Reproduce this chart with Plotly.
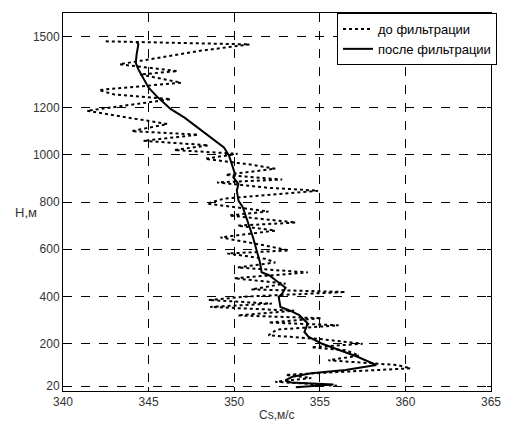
import plotly.graph_objects as go

# Raw (before filtering) profile: depth H (m) and sound speed Cs (m/s)
raw_h = [1480, 1467, 1440, 1383, 1354, 1340, 1305, 1274, 1255, 1235, 1186, 1160,
         1130, 1100, 1085, 1059, 1040, 1020, 1004, 983, 960, 941, 915, 895, 883,
         860, 848, 814, 793, 760, 743, 713, 700, 679, 650, 620, 595, 582, 560,
         544, 523, 502, 477, 455, 430, 419, 400, 385, 370, 356, 340, 320, 308,
         290, 278, 260, 236, 220, 200, 185, 173, 150, 130, 110, 96, 80, 68, 55,
         39, 30, 22]
raw_cs = [342.5, 350.9, 348.0, 343.3, 346.7, 344.5, 346.9, 342.1, 343.0, 346.3,
          341.4, 343.5, 346.1, 344.0, 347.9, 344.7, 348.5, 346.5, 350.2, 348.3,
          350.8, 352.4, 349.5, 352.8, 349.0, 352.0, 354.9, 349.4, 348.4, 352.0,
          349.7, 353.6, 350.2, 352.4, 349.2, 351.5, 353.2, 349.6, 351.8, 352.4,
          350.2, 354.3, 350.0, 353.0, 351.0, 356.5, 350.8, 348.5, 352.2, 348.6,
          353.5, 350.2, 355.1, 352.0, 356.1, 352.5, 352.0, 355.0, 357.5, 354.5,
          356.5, 357.3, 355.5, 359.5, 360.3, 356.0, 353.0, 354.5, 352.4, 354.5,
          356.0]

# Filtered profile
flt_h = [1478, 1467, 1425, 1389, 1362, 1326, 1284, 1242, 1193, 1157, 1115, 1073,
         1031, 996, 946, 918, 904, 876, 848, 806, 778, 735, 693, 650, 595, 546,
         503, 489, 468, 437, 412, 398, 356, 342, 321, 286, 250, 229, 201, 173,
         145, 110, 89, 75, 60, 46, 36, 28, 22, 16]
flt_cs = [344.3, 344.4, 344.3, 344.25, 344.4, 344.7, 345.0, 345.55, 346.3, 347.1,
          347.85, 348.6, 349.4, 349.7, 349.95, 350.05, 349.95, 350.25, 350.15,
          350.25, 350.5, 350.72, 350.9, 351.1, 351.3, 351.5, 351.6, 352.06, 352.44,
          353.0, 352.8, 352.6, 352.7, 353.2, 353.8, 354.3, 354.1, 354.35, 355.1,
          356.1, 357.2, 358.3, 356.5, 354.5, 353.4, 353.0, 353.3, 355.8, 354.8, 353.6]

x_ticks = [340, 345, 350, 355, 360, 365]
y_ticks = [20, 200, 400, 600, 800, 1000, 1200, 1500]

fig = go.Figure()
fig.add_trace(go.Scatter(x=raw_cs, y=raw_h, mode="lines", name="до фильтрации",
                         line=dict(color="black", width=2, dash="dot")))
fig.add_trace(go.Scatter(x=flt_cs, y=flt_h, mode="lines", name="после фильтрации",
                         line=dict(color="black", width=2)))

axis_common = dict(showline=True, linecolor="black", linewidth=1, mirror="ticks",
                   ticks="inside", ticklen=4, tickcolor="black",
                   showgrid=True, gridcolor="black", griddash="dash", gridwidth=1,
                   zeroline=False, tickfont=dict(family="Liberation Sans, Arial", size=12, color="#333"))

fig.update_xaxes(range=[340, 365], tickvals=x_ticks, ticktext=[str(v) for v in x_ticks],
                 **axis_common)
fig.update_yaxes(range=[0, 1600], tickvals=y_ticks, ticktext=[str(v) for v in y_ticks],
                 **axis_common)

fig.update_layout(
    width=513, height=427,
    margin=dict(l=63, r=14, t=12, b=36),
    paper_bgcolor="white", plot_bgcolor="white",
    font=dict(family="Liberation Sans, Arial", size=12, color="black"),
    showlegend=True,
    legend=dict(x=1.014, y=1, xanchor="right", yanchor="top", bgcolor="white",
                bordercolor="black", borderwidth=1,
                font=dict(family="Liberation Sans, Arial", size=13, color="black"),
                itemwidth=30, tracegroupgap=0),
    annotations=[
        dict(text="H,м", xref="paper", yref="paper", x=-0.117, y=0.472,
             showarrow=False, font=dict(size=13, color="#333")),
        dict(text="Cs,м/с", xref="paper", yref="paper", x=0.5, y=-0.063,
             showarrow=False, font=dict(size=12, color="#333"), yanchor="middle"),
    ],
)

fig.write_html("out.html", config={"displayModeBar": False},
               post_script="document.body.style.margin='0';document.body.style.overflow='hidden';")
